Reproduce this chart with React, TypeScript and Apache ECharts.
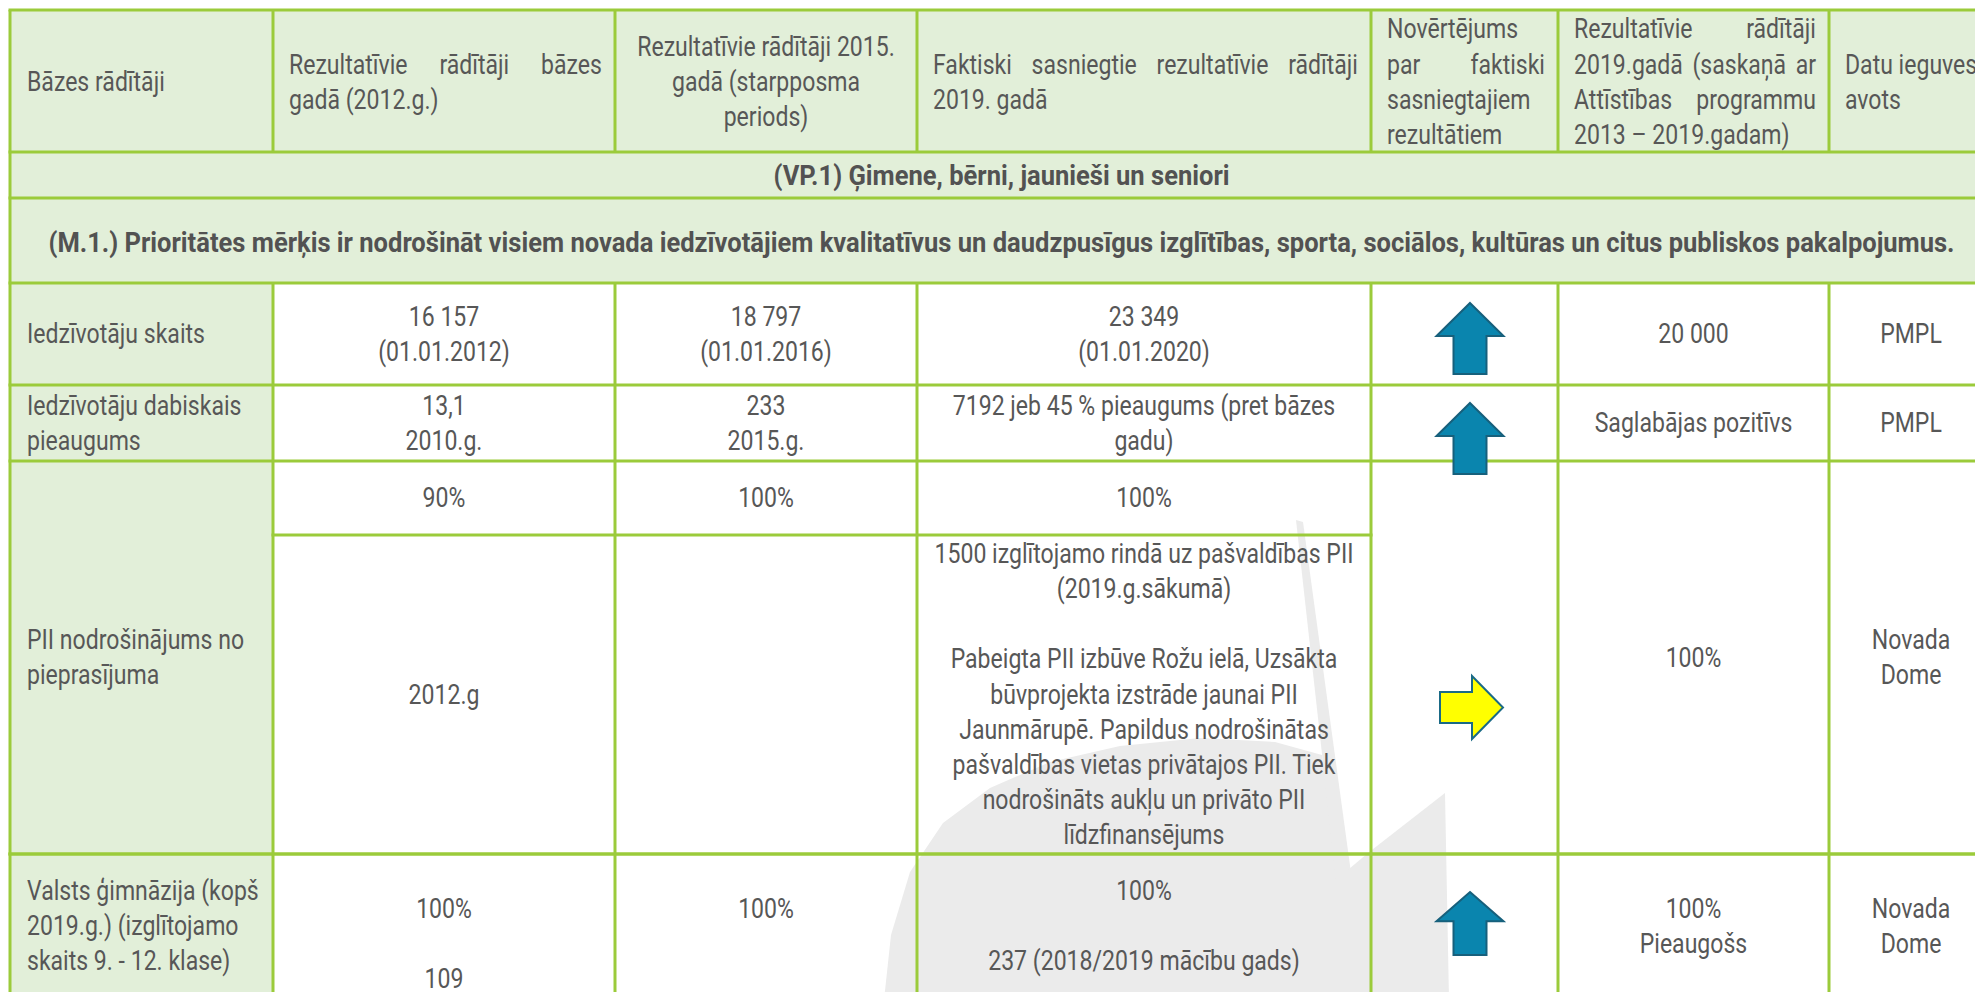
import React, { useEffect, useRef } from "react";
import * as echarts from "echarts";

// ---------- DATA ----------
const columnHeaders: string[][] = [
  ["Bāzes rādītāji"],
  ["Rezultatīvie rādītāji bāzes", "gadā (2012.g.)"],
  ["Rezultatīvie rādītāji 2015.", "gadā (starpposma", "periods)"],
  ["Faktiski sasniegtie rezultatīvie rādītāji", "2019. gadā"],
  ["Novērtējums", "par faktiski", "sasniegtajiem", "rezultātiem"],
  ["Rezultatīvie rādītāji", "2019.gadā (saskaņā ar", "Attīstības programmu", "2013 – 2019.gadam)"],
  ["Datu ieguves", "avots"],
];
const priorityTitle = "(VP.1) Ģimene, bērni, jaunieši un seniori";
const goalTitle =
  "(M.1.) Prioritātes mērķis ir nodrošināt visiem novada iedzīvotājiem kvalitatīvus un daudzpusīgus izglītības, sporta, sociālos, kultūras un citus publiskos pakalpojumus.";

const indicators: string[][] = [
  ["Iedzīvotāju skaits"],
  ["Iedzīvotāju dabiskais", "pieaugums"],
  ["PII nodrošinājums no", "pieprasījuma"],
  ["Valsts ģimnāzija (kopš", "2019.g.) (izglītojamo", "skaits 9. - 12. klase)"],
];
const baseValues: string[][] = [
  ["16 157", "(01.01.2012)"],
  ["13,1", "2010.g."],
  ["90%"],
  ["", "100%", "", "109"],
];
const baseDetails: string[][] = [[], [], ["2012.g"], []];
const midValues: string[][] = [
  ["18 797", "(01.01.2016)"],
  ["233", "2015.g."],
  ["100%"],
  ["100%", ""],
];
const midDetails: string[][] = [[], [], [], []];
const actualValues: string[][] = [
  ["23 349", "(01.01.2020)"],
  ["7192 jeb 45 % pieaugums (pret bāzes", "gadu)"],
  ["100%"],
  ["100%", "", "237 (2018/2019 mācību gads)"],
];
const actualDetails: string[][] = [
  [],
  [],
  [
    "1500 izglītojamo rindā uz pašvaldības PII",
    "(2019.g.sākumā)",
    "",
    "Pabeigta PII izbūve Rožu ielā, Uzsākta",
    "būvprojekta izstrāde jaunai PII",
    "Jaunmārupē. Papildus nodrošinātas",
    "pašvaldības vietas privātajos PII. Tiek",
    "nodrošināts aukļu un privāto PII",
    "līdzfinansējums",
  ],
  [],
];
const assessments: string[] = ["up", "up", "stable", "up"];
const targets: string[][] = [["20 000"], ["Saglabājas pozitīvs"], ["100%"], ["100%", "Pieaugošs"]];
const sources: string[][] = [["PMPL"], ["PMPL"], ["Novada", "Dome"], ["Novada", "Dome"]];

// ---------- LAYOUT ----------
const FONT = "Roboto";
const FS = 27;
const LH = 35.2;
const TEXT_WEIGHT = "normal";
const TEXT_COLOR = "#575757";
const TITLE_COLOR = "#525252";
const BORDER = "#9BCB3B";
const HEAD_BG = "#E2EFD9";
const WM = "#EBEBEB";
const X = [10, 273, 615, 917, 1371, 1558, 1829, 1993];
const TOP = 10;
const HEAD_BOTTOM = 152;
const VP_BOTTOM = 198;
const ROW_TOPS = [283, 385, 461, 854];
const ROW_BOTTOMS = [385, 461, 854, 998];
const SPLIT_Y = 535;
const HEADER_ALIGN = ["left", "justify", "center", "justify", "justify", "justify", "left"];
const ARROW_X = 1470;
const ARROW_Y = [303, 403, 707.5, 892];
const ARROW_H = [71, 71, 63, 63];

let ctx: CanvasRenderingContext2D | null = null;
function rawWidth(s: string, bold: boolean) {
  if (!ctx) ctx = document.createElement("canvas").getContext("2d");
  ctx!.font = `${bold ? "bold" : TEXT_WEIGHT} ${FS}px ${FONT}`;
  return ctx!.measureText(s).width;
}

function buildOption() {
  const SX =
    (415 + 391) /
    (rawWidth("1500 izglītojamo rindā uz pašvaldības PII", false) +
      rawWidth("Pabeigta PII izbūve Rožu ielā, Uzsākta", false));
  const SXB = 1908 / rawWidth(goalTitle, true);

  const els: any[] = [];
  const txt = (s: string, x: number, y: number, align: string, bold = false) => {
    if (!s) return;
    els.push({
      type: "text",
      x,
      y,
      scaleX: bold ? SXB : SX,
      z: 10,
      silent: true,
      style: {
        text: s,
        x: 0,
        y: 0,
        fill: bold ? TITLE_COLOR : TEXT_COLOR,
        fontSize: FS,
        fontFamily: FONT,
        fontWeight: bold ? "bold" : TEXT_WEIGHT,
        align,
        textAlign: align,
        verticalAlign: "middle",
        textVerticalAlign: "middle",
      },
    });
  };
  const justify = (s: string, left: number, right: number, y: number) => {
    const words = s.split(" ");
    if (words.length < 2) {
      txt(s, left, y, "left");
      return;
    }
    const ws = words.map((w) => rawWidth(w, false) * SX);
    const sum = ws.reduce((a, b) => a + b, 0);
    const gap = (right - left - sum) / (words.length - 1);
    let x = left;
    words.forEach((w, i) => {
      txt(w, x, y, "left");
      x += ws[i] + gap;
    });
  };
  const cell = (lines: string[], col: number, y0: number, y1: number, align: string, yc?: number) => {
    const c = yc !== undefined ? yc : (y0 + y1) / 2;
    const left = X[col] + (col === 0 ? 17 : 16);
    const right = X[col + 1] - 13;
    const mid = (X[col] + X[col + 1]) / 2;
    lines.forEach((l, i) => {
      const y = c + (i - (lines.length - 1) / 2) * LH;
      if (align === "left") txt(l, left, y, "left");
      else if (align === "center") txt(l, mid, y, "center");
      else if (i === lines.length - 1) txt(l, left, y, "left");
      else justify(l, left, right, y);
    });
  };
  const rect = (x0: number, y0: number, x1: number, y1: number, fill: string, z = 0) =>
    els.push({ type: "rect", z, silent: true, shape: { x: x0, y: y0, width: x1 - x0, height: y1 - y0 }, style: { fill } });
  const line = (x1: number, y1: number, x2: number, y2: number) =>
    els.push({ type: "line", z: 5, silent: true, shape: { x1, y1, x2, y2 }, style: { stroke: BORDER, lineWidth: 3 } });
  const poly = (pts: number[][], fill: string, stroke?: string, z = 1) =>
    els.push({
      type: "polygon",
      z,
      silent: true,
      shape: { points: pts },
      style: stroke ? { fill, stroke, lineWidth: 2 } : { fill },
    });

  // watermark
  poly(
    [
      [884, 1000], [891, 935], [910, 872], [943, 823], [990, 788], [1050, 762], [1120, 746],
      [1200, 738], [1275, 742], [1322, 755], [1342, 880], [1338, 1000],
    ],
    WM, undefined, 0
  );
  poly([[1296, 520], [1303, 522], [1352, 880], [1336, 880]], WM, undefined, 0);
  poly([[1336, 880], [1368, 853], [1445, 793], [1449, 1000], [1336, 1000]], WM, undefined, 0);

  // backgrounds
  rect(X[0], TOP, X[7], ROW_TOPS[0], HEAD_BG);
  rect(X[0], ROW_TOPS[0], X[1], 1010, HEAD_BG);

  // borders
  const lastX = X[X.length - 1];
  [TOP, HEAD_BOTTOM, VP_BOTTOM, ...ROW_TOPS, ROW_BOTTOMS[2]].forEach((y) => line(X[0] - 1.5, y, lastX + 1.5, y));
  line(X[1] - 1.5, SPLIT_Y, X[4] + 1.5, SPLIT_Y);
  X.forEach((x, i) => {
    if (i === 0 || i === X.length - 1) line(x, TOP, x, 1010);
    else {
      line(x, TOP, x, HEAD_BOTTOM);
      line(x, ROW_TOPS[0], x, 1010);
    }
  });

  // header
  columnHeaders.forEach((lines, c) => cell(lines, c, TOP, HEAD_BOTTOM, HEADER_ALIGN[c], 82));
  const tableMid = (X[0] + X[7]) / 2;
  txt(priorityTitle, tableMid, (HEAD_BOTTOM + VP_BOTTOM) / 2 + 1, "center", true);
  txt(goalTitle, tableMid, (VP_BOTTOM + ROW_TOPS[0]) / 2 + 2, "center", true);

  // data rows
  indicators.forEach((ind, r) => {
    const y0 = ROW_TOPS[r];
    const y1 = ROW_BOTTOMS[r];
    cell(ind, 0, y0, y1, "left");
    const cols = [
      [baseValues[r], baseDetails[r]],
      [midValues[r], midDetails[r]],
      [actualValues[r], actualDetails[r]],
    ];
    const split = baseDetails[r].length || midDetails[r].length || actualDetails[r].length;
    cols.forEach(([v, d], k) => {
      if (split) {
        cell(v, k + 1, y0, SPLIT_Y, "center");
        cell(d, k + 1, SPLIT_Y, y1, "center");
      } else cell(v, k + 1, y0, y1, "center");
    });
    cell(targets[r], 5, y0, y1, "center");
    cell(sources[r], 6, y0, y1, "center");

    // assessment arrow
    const ay = ARROW_Y[r];
    if (assessments[r] === "up") {
      const h = ARROW_H[r];
      const cx = ARROW_X;
      const hh = h * 0.465;
      poly(
        [
          [cx, ay], [cx + 33.5, ay + hh], [cx + 16.5, ay + hh], [cx + 16.5, ay + h],
          [cx - 16.5, ay + h], [cx - 16.5, ay + hh], [cx - 33.5, ay + hh],
        ],
        "#0A85AE", "#17607C", 8
      );
    } else {
      const x0 = ARROW_X - 30;
      poly(
        [
          [x0, ay - 15.5], [x0 + 32, ay - 15.5], [x0 + 32, ay - 31.5], [x0 + 63, ay],
          [x0 + 32, ay + 31.5], [x0 + 32, ay + 15.5], [x0, ay + 15.5],
        ],
        "#FFFF00", "#1A6A86", 8
      );
    }
  });

  return {
    animation: false,
    backgroundColor: "#ffffff",
    graphic: { elements: els },
  };
}

export default function App() {
  const ref = useRef<HTMLDivElement>(null);
  useEffect(() => {
    if (!ref.current) return;
    const chart = echarts.init(ref.current, null, { renderer: "svg" });
    chart.setOption(buildOption() as any);
    return () => chart.dispose();
  }, []);
  return (
    <div
      ref={ref}
      style={{ position: "fixed", left: 0, top: 0, width: 1975, height: 992, background: "#fff" }}
    />
  );
}
